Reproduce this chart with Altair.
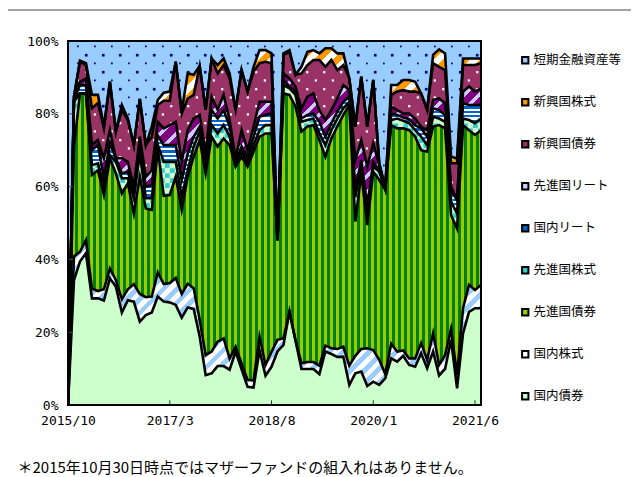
import altair as alt
import numpy as np
import pandas as pd

tick_idx = [0, 17, 34, 51, 68]
tick_labels = ["2015/10", "2017/3", "2018/8", "2020/1", "2021/6"]
names = ["国内債券", "国内株式", "先進国債券", "先進国株式", "国内リート", "先進国リート", "新興国債券", "新興国株式", "短期金融資産等"]

c1 = [0,34.3,39.4,41.7,29.3,29.3,28.7,34.8,32.5,25.4,28.8,28.4,22.9,24.7,25.4,29.8,28.4,28.2,27.5,24,26.8,26.4,18.8,8.2,8.7,10.7,10.7,9.7,14.7,9.8,5,4.8,15,8,10.5,14.7,16.5,25.6,17.8,9.9,9.9,9.9,8.5,14.7,14,13.2,13.3,5.5,8.7,9.2,5.2,6.4,5.5,7.3,12.8,11.9,13.5,11,10.5,14.2,10.1,14.7,8.1,9.9,17.9,4.6,19.7,25.6,26.6,26.6]
c2 = [0,40.8,42.1,45.3,32,31.3,31.8,37.5,34.3,29.1,31.8,33.2,30.5,29.6,29.8,36.4,33.2,33.5,34.9,30.5,33.3,32.1,23.4,13.7,14.7,17.4,18.3,12.8,16,11.4,6.9,6.7,18.8,11,14.6,17.9,18.3,25.6,17.8,11.5,11.8,11.8,10.8,16.3,15.6,15.4,16,10.8,13.5,15.4,15.6,15.1,12.4,8.5,16.8,14.7,15,12.8,12.8,17,12.4,19.7,11,13.7,20.9,8.2,26.6,33,31.6,33]
c3 = [0,71,85.6,85.6,63.2,64.5,57.7,67.8,63.6,58.1,60.9,52.6,62.7,54,53.6,70.5,57.5,57.7,62.7,53.6,62.7,68.2,72.8,63.6,73.7,71,73.2,71.4,65.5,68.2,65.5,69.6,73.7,74.6,74.6,45.3,85.6,85.2,82,75.1,76.5,76.9,72.8,68.2,73.2,76.5,79.7,82.4,50.4,63.6,49.4,64.1,61.8,59.2,76.9,76,76,75.5,73.7,70,69.6,76.5,76.9,76,52.2,48.5,76.9,75.5,74.2,75.5]
c4 = [0,83.3,85.6,85.6,65.9,66.4,60,68.7,66.8,62.3,62.3,56.8,69.1,56.8,56.8,71.5,66.8,66.8,66.8,57.2,64.5,71,75.1,66.8,76.9,74.6,76.9,73.7,66.4,69.6,66.4,71.4,75.5,76.9,76.9,45.3,87.9,87,85.2,77.8,78.3,78.7,74.6,71.4,75.5,78.7,81.5,83.3,57.2,65.5,52.6,65.5,64.1,59.2,78.3,78.7,78.1,77.4,75.5,73.7,71.4,79.2,78.7,77.8,55.8,52.6,78.7,78.3,77.4,78.7]
c5 = [0,83.8,87.9,87.9,70,71.4,62.3,71.9,67.8,63.6,64.1,58.2,71.4,60,60.4,74,71.4,71.4,71.4,61.8,69.1,73.7,76.5,67.8,81,78.7,81,76.5,66.8,71,67.8,73.7,79.2,79.7,80.1,45.3,89.3,87.5,86.1,78.7,79.7,80.1,77.8,73.7,77.4,80.6,83.3,84.7,59,67.3,54.5,66.8,64.5,59.5,80.1,79.7,79,78.5,76.9,76,73.7,81.5,81,79.7,59,56.3,82.9,82.4,82.4,82.4]
c6 = [0,84.2,88.8,89.7,71.4,72.8,67.8,75.5,67.8,67.8,66.8,60,73.7,62.7,64.5,77.8,76,76.9,77.8,66.8,75.5,78.7,79.7,69.1,84.7,81.1,85.2,78.3,67.8,75.5,70,76.5,83.3,83.3,83.3,45.3,91.1,89.7,87.5,81.5,84.7,85.6,81,78.3,81,84.2,87.9,86.5,67.3,72.8,65.5,71.9,65.9,59.5,82,81,80.1,80.1,78.7,76.5,75.5,83.8,84.2,82.9,60,56.3,86.1,87.5,86.1,87]
c7 = [0,84.7,94.3,93.4,81.5,83,76,88.8,75.1,81,78.3,71.4,84.1,71.4,73.7,82.4,83.6,83.6,94.3,80.1,84.2,85.2,93.1,81.1,95.2,91.1,93.4,89.7,81.1,92,86.1,91.6,93.9,94.3,93.9,45.3,96.2,97,90.7,91.1,93.4,94.8,94.8,92.9,94.8,92,93.4,89.7,76.5,90.2,76.5,89.3,66.4,59.5,85.2,86.1,86.5,86.1,86.1,85.6,81.1,93.9,92.9,92,66.4,66.4,93.4,93.4,93.4,93.9]
c8 = [0,84.7,94.6,93.9,85.2,85.2,76.5,88.8,75.1,82.4,78.7,71.4,84.1,71.4,76.5,83.8,85.8,86.1,94.3,80.6,91.1,90.7,93.1,81.1,95.2,93.4,95.2,91.1,81.1,92,86.1,92.9,97.5,97.5,96.6,45.3,96.6,97.5,90.7,92.9,97,97.5,96.6,98,98,96.6,96.6,89.7,76.5,90.2,76.5,89.3,66.4,59.5,87.9,87.9,89.3,89.3,88.8,85.6,81.1,96.2,97.7,96.6,68.2,67.7,95.2,95.2,95.2,95.2]
c9 = [100] * 70
cumulative = [c1, c2, c3, c4, c5, c6, c7, c8, c9]

legend_colors = ["#99CCFF", "#FF9900", "#993366", "#CCCCFF", "#0066CC", "#33CCCC", "#99CC00", "#FFFFFF", "#CCFFCC"]

PLOT_W, PLOT_H = 413, 364
idx = list(range(70))


def stripes(colors, period, a, b, height, phase=0.0):
    """A hard-stop gradient that repeats `colors` every `period` pixels along the normal (a, b)."""
    length = a * PLOT_W + b * height
    p, q = a * PLOT_W / length, b * height / length
    dx, dy = p / (p * p + q * q), q / (p * p + q * q)
    stops, n = [], len(colors)
    cells = int(length / period * n) + 2
    for k in range(cells):
        t0 = min(1, max(0, (k * period / n - phase) / length))
        t1 = min(1, max(0, ((k + 1) * period / n - phase) / length))
        col = colors[k % n]
        stops += [alt.GradientStop(color=col, offset=t0), alt.GradientStop(color=col, offset=t1)]
    return alt.LinearGradient(gradient="linear", x1=0, y1=0, x2=dx, y2=dy, stops=stops)


def area_fill(i):
    h = max(cumulative[i]) * PLOT_H / 100
    d = 0.7071
    if i == 0:
        return "#CCFFCC"
    if i == 1:
        return stripes(["#FFFFFF", "#99CCFF"], 9.5, d, d, h)
    if i == 2:
        return stripes(["#008000", "#99CC00"], 5.99, 1, 0, h, phase=-1.0)
    if i == 3:
        return "#CCFFCC"
    if i == 4:
        return stripes(["#0066CC", "#FFFFFF"], 4.4, 0, 1, h)
    if i == 5:
        return stripes(["#800080", "#800080", "#CCCCFF"], 11, d, d, h)
    if i == 6:
        return "#993366"
    if i == 7:
        return stripes(["#FF9900", "#FFFFFF"], 13, d, d, h)
    return "#99CCFF"


def lattice(x0, y0, below=None, step_x=2.84, step_y=4.67):
    rows = [(x, y) for x in np.arange(x0, 69.5, step_x) for y in np.arange(y0, 0, -step_y)]
    if below is not None:
        rows = [(x, y) for x, y in rows if y < np.interp(x, idx, below) - 1.2]
    return pd.DataFrame(rows, columns=["x", "v"])


x_enc = alt.X(
    "x:Q",
    scale=alt.Scale(domain=[0, 69], nice=False, zero=False),
    axis=alt.Axis(
        values=tick_idx,
        labelExpr="{0:'2015/10',17:'2017/3',34:'2018/8',51:'2020/1',68:'2021/6'}[datum.value]",
        title=None, grid=False, ticks=False, domain=False, labelAngle=0,
        labelFont="DejaVu Sans Mono", labelFontSize=13, labelColor="black",
        labelPadding=9, labelOverlap=False, labelFlush=False,
    ),
)
y_enc = alt.Y(
    "v:Q",
    scale=alt.Scale(domain=[0, 100], nice=False),
    axis=alt.Axis(
        values=[0, 20, 40, 60, 80, 100], format=".0f",
        labelExpr="datum.value + '%'",
        title=None, grid=False, ticks=False, domain=False,
        labelFont="DejaVu Sans Mono", labelFontSize=13, labelColor="black", labelPadding=10,
    ),
)

layers = []
x_plain = alt.X("x:Q", scale=alt.Scale(domain=[0, 69], nice=False, zero=False))
y_plain = alt.Y("v:Q", scale=alt.Scale(domain=[0, 100], nice=False))


def dots(frame_, color, size):
    return alt.Chart(frame_).mark_square(color=color, size=size, opacity=1, clip=True).encode(x=x_plain, y=y_plain)


for i in range(8, -1, -1):
    df = pd.DataFrame({"x": idx, "v": cumulative[i], "z": [0] * 70})
    layers.append(alt.Chart(df).mark_area(fill=area_fill(i), interpolate="linear").encode(x=x_enc, y=y_enc, y2="z:Q"))
    if i == 8:
        layers += [dots(lattice(3.05, 96.1), "#000080", 7), dots(lattice(1.65, 98.5), "#000080", 3)]
    if i == 6:
        layers += [dots(lattice(3.05, 96.1, c7), "#FFFFFF", 5), dots(lattice(1.65, 98.5, c7), "#FFFFFF", 5)]
    if i == 3:
        rows = []
        for xv in np.arange(0, 69.5, 0.83):
            for yv in np.arange(0, 100, 1.37):
                col, row = int(round(xv / 0.83)), int(round(yv / 1.37))
                low, high = np.interp(xv, idx, c3), np.interp(xv, idx, c4)
                if (col + row) % 2 == 0 and low - 0.4 < yv < high - 0.4:
                    rows.append((xv, yv))
        layers.append(dots(pd.DataFrame(rows, columns=["x", "v"]), "#33CCCC", 22))

for i in range(8):
    df = pd.DataFrame({"x": idx, "v": cumulative[i]})
    layers.append(alt.Chart(df).mark_line(color="black", strokeWidth=2.6, strokeJoin="miter", strokeMiterLimit=6, clip=True).encode(x=x_enc, y=y_enc))

ticks_x = alt.Chart(pd.DataFrame({"x": tick_idx, "v": [0] * 5, "t": [1.3] * 5})).mark_rule(color="#333333", strokeWidth=1).encode(x=x_enc, y=y_enc, y2="t:Q")
ticks_y = alt.Chart(pd.DataFrame({"x": [0] * 6, "e": [0.8] * 6, "v": [0, 20, 40, 60, 80, 100]})).mark_rule(color="#555555", strokeWidth=1).encode(x=x_enc, x2="e:Q", y=y_enc)
frame = alt.Chart(pd.DataFrame({"a": [0]})).mark_rect(filled=False, stroke="black", strokeWidth=2).encode(
    x=alt.value(0), x2=alt.value(PLOT_W), y=alt.value(0), y2=alt.value(PLOT_H))
outer = alt.Chart(pd.DataFrame({"a": [0]})).mark_rule(color="#444444", strokeWidth=1).encode(
    x=alt.value(-60), x2=alt.value(563), y=alt.value(-31))

legend_df = pd.DataFrame({"n": names[::-1], "x": [0] * 9, "v": [0] * 9})
legend_layer = alt.Chart(legend_df).mark_square(size=0).encode(
    x=x_enc, y=y_enc,
    fill=alt.Fill("n:N", scale=alt.Scale(domain=names[::-1], range=legend_colors), legend=alt.Legend(
        title=None, orient="none", legendX=451, legendY=13,
        symbolType="square", symbolSize=40, symbolStrokeColor="black", symbolStrokeWidth=2, symbolOpacity=1,
        labelFont="Noto Sans CJK JP", labelFontSize=12.5, labelColor="black", labelLimit=200,
        rowPadding=27, labelOffset=2,
    )),
)

chart = alt.layer(*layers, ticks_x, ticks_y, frame, outer, legend_layer).properties(
    width=PLOT_W, height=PLOT_H,
    autosize=alt.AutoSizeParams(type="none"),
    padding={"left": 60, "top": 33, "right": 150, "bottom": 71},
    title=alt.TitleParams(
        "＊2015年10月30日時点ではマザーファンドの組入れはありません。",
        orient="bottom", anchor="start", align="left", dx=10, offset=34,
        font="Noto Sans CJK JP", fontSize=15, fontWeight="normal", color="black",
    ),
).configure_view(stroke=None)

chart.save("out.html", embed_options={"renderer": "svg", "actions": False})
